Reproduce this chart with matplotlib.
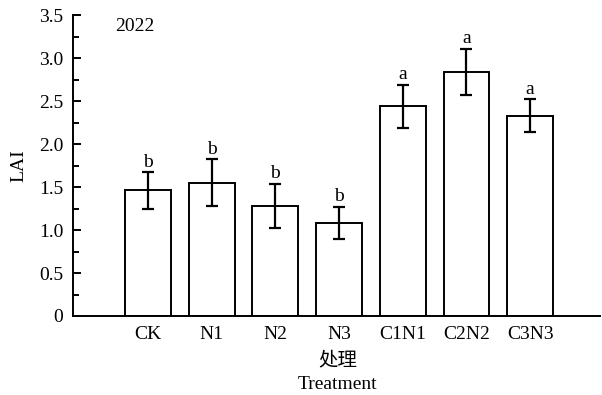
import numpy as np
import matplotlib
matplotlib.use('Agg')
import matplotlib.pyplot as plt
from matplotlib.ticker import MultipleLocator, FuncFormatter

# ---- Data ------------------------------------------------------------
treatments = ['CK', 'N1', 'N2', 'N3', 'C1N1', 'C2N2', 'C3N3']
lai_mean = [1.46, 1.55, 1.28, 1.08, 2.44, 2.84, 2.33]
lai_err = [0.21, 0.27, 0.26, 0.19, 0.25, 0.27, 0.19]
letters = ['b', 'b', 'b', 'b', 'a', 'a', 'a']

SERIF = ['Liberation Serif', 'DejaVu Serif']
CJK = ['Noto Sans CJK SC', 'DejaVu Sans']
FS = 14

plt.rcParams['font.family'] = SERIF
plt.rcParams['font.size'] = FS

fig = plt.figure(figsize=(6.02, 3.95), dpi=100)
ax = fig.add_axes([0.121, 0.2, 0.876, 0.762])

x = np.arange(1, len(treatments) + 1)
ax.bar(x, lai_mean, width=0.72, facecolor='white', edgecolor='black',
       linewidth=1.4, zorder=2)
ax.errorbar(x, lai_mean, yerr=lai_err, fmt='none', ecolor='black',
            elinewidth=1.6, capsize=4, capthick=1.6, zorder=3)

# significance letters above the error bars
for xi, m, e, lab in zip(x, lai_mean, lai_err, letters):
    ax.text(xi, m + e + 0.02, lab, ha='center', va='bottom', fontsize=FS)

ax.set_xlim(-0.18, 8.1)
ax.set_ylim(0, 3.5)
ax.set_xticks(x)
ax.set_xticklabels(treatments)
ax.tick_params(axis='x', length=0, pad=7)
ax.yaxis.set_major_locator(MultipleLocator(0.5))
ax.yaxis.set_minor_locator(MultipleLocator(0.25))
ax.yaxis.set_major_formatter(FuncFormatter(lambda v, p: '0' if v == 0 else f'{v:.1f}'))
ax.tick_params(axis='y', which='major', direction='in', length=6, width=1.4, pad=7)
ax.tick_params(axis='y', which='minor', direction='in', length=4, width=1.4)

for side in ['top', 'right']:
    ax.spines[side].set_visible(False)
for side in ['left', 'bottom']:
    ax.spines[side].set_linewidth(1.4)

ax.set_ylabel('LAI', fontsize=FS, labelpad=8)
ax.text(0.081, 0.99, '2022', transform=ax.transAxes, ha='left', va='top', fontsize=FS)

fig.text(0.561, 0.089, '处理', ha='center', va='center', family=CJK, fontsize=FS)
fig.text(0.561, 0.027, 'Treatment', ha='center', va='center', fontsize=FS)

fig.savefig('out.png', dpi=100)
